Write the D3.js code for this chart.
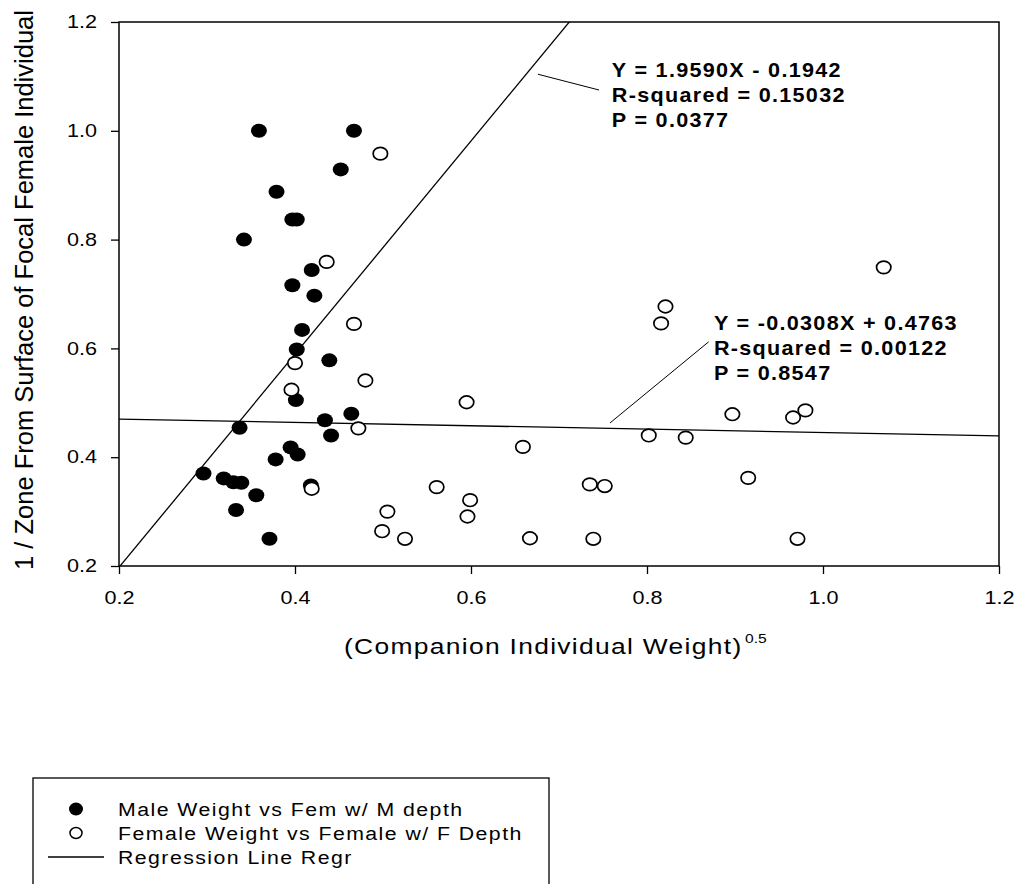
<!DOCTYPE html>
<html><head><meta charset="utf-8">
<script src="https://cdn.jsdelivr.net/npm/d3@7"></script>
<style>
body{margin:0;background:#fff}
svg{display:block}
text{font-family:"Liberation Sans", Arial, sans-serif; fill:#000}
</style>
</head><body>
<svg id="c" width="1017" height="884"></svg>
<script>
// ---------- data ----------
const maleX = [0.359,0.467,0.452,0.379,0.397,0.402,0.342,0.419,0.397,0.422,0.408,0.402,0.439,0.401,0.434,0.464,0.441,0.337,0.395,0.403,0.378,0.296,0.319,0.330,0.339,0.356,0.418,0.333,0.371];
const maleY = [1.000,1.000,0.929,0.888,0.837,0.837,0.800,0.744,0.716,0.697,0.634,0.598,0.578,0.505,0.468,0.480,0.440,0.454,0.418,0.405,0.396,0.370,0.361,0.354,0.353,0.330,0.348,0.303,0.250];
const femaleX = [0.497,0.436,0.467,0.400,0.480,0.396,0.472,0.419,0.505,0.499,0.525,0.595,0.659,0.561,0.599,0.596,0.667,0.735,0.752,0.739,1.069,0.821,0.816,0.897,0.980,0.966,0.802,0.844,0.915,0.971];
const femaleY = [0.958,0.759,0.645,0.573,0.541,0.524,0.453,0.342,0.300,0.264,0.250,0.501,0.419,0.345,0.321,0.291,0.251,0.350,0.347,0.250,0.749,0.677,0.646,0.479,0.486,0.473,0.440,0.436,0.362,0.250];
const xTicks = [0.2,0.4,0.6,0.8,1.0,1.2];
const yTicks = [0.2,0.4,0.6,0.8,1.0,1.2];
const regSlopes = [1.9590,-0.0308];
const regIntercepts = [-0.1942,0.4763];
const eqLines = [
  ["Y = 1.9590X - 0.1942","R-squared = 0.15032","P = 0.0377"],
  ["Y = -0.0308X + 0.4763","R-squared = 0.00122","P = 0.8547"]
];
const eqTextX = [0.760,0.876];
const eqTextY = [1.099,0.634];
const leaderFromX = [0.676,0.758], leaderFromY = [1.104,0.463];
const leaderToX = [0.7455,0.870], leaderToY = [1.075,0.612];
const legendLabels = ["Male Weight vs Fem w/ M depth","Female Weight vs Female w/ F Depth","Regression Line Regr"];
const xTitle = "(Companion Individual Weight)";
const xTitleSup = "0.5";
const yTitle = "1 / Zone From Surface of Focal Female Individual";

// ---------- layout ----------
const svg = d3.select("#c");
svg.append("rect").attr("width",1017).attr("height",884).attr("fill","#fff");
const L=119,R=999,T=22,B=566;
const x = d3.scaleLinear().domain([0.2,1.2]).range([L,R]);
const y = d3.scaleLinear().domain([0.2,1.2]).range([B,T]);

svg.append("defs").append("clipPath").attr("id","clip")
  .append("rect").attr("x",L).attr("y",T).attr("width",R-L).attr("height",B-T);

function stretch(sel, s){
  sel.each(function(){
    const t = d3.select(this);
    const tx = +t.attr("x")||0, ty = +t.attr("y")||0;
    t.attr("x",0).attr("y",0).attr("transform",`translate(${tx},${ty}) scale(${s},1)`);
  });
}

// axes
const tickFont = 18;
const xAxis = svg.append("g").attr("transform",`translate(0,${B})`)
  .call(d3.axisBottom(x).tickValues(xTicks).tickFormat(d3.format(".1f")).tickSize(8).tickPadding(17));
const yAxis = svg.append("g").attr("transform",`translate(${L},0)`)
  .call(d3.axisLeft(y).tickValues(yTicks).tickFormat(d3.format(".1f")).tickSize(8).tickPadding(14));
[xAxis,yAxis].forEach(g=>{
  g.select(".domain").remove();
  g.selectAll(".tick line").attr("stroke","#000").attr("stroke-width",1.3);
  g.selectAll(".tick text").attr("font-family",null).style("font-size",tickFont+"px").attr("fill","#000");
  stretch(g.selectAll(".tick text"),1.2);
});

// frame
svg.append("rect").attr("x",L).attr("y",T).attr("width",R-L).attr("height",B-T)
  .attr("fill","none").attr("stroke","#000").attr("stroke-width",1.5);

// regression lines
const plot = svg.append("g").attr("clip-path","url(#clip)");
regSlopes.forEach((m,i)=>{
  const b = regIntercepts[i];
  plot.append("line")
    .attr("x1",x(0.2)).attr("y1",y(m*0.2+b))
    .attr("x2",x(1.2)).attr("y2",y(m*1.2+b))
    .attr("stroke","#000").attr("stroke-width",1.3);
});

// points
const male = maleX.map((v,i)=>({x:v,y:maleY[i]}));
const female = femaleX.map((v,i)=>({x:v,y:femaleY[i]}));
svg.append("g").selectAll("ellipse").data(male).join("ellipse")
  .attr("cx",d=>x(d.x)).attr("cy",d=>y(d.y)).attr("rx",8).attr("ry",7).attr("fill","#000");
svg.append("g").selectAll("ellipse").data(female).join("ellipse")
  .attr("cx",d=>x(d.x)).attr("cy",d=>y(d.y)).attr("rx",7.2).attr("ry",6.3)
  .attr("fill","#fff").attr("stroke","#000").attr("stroke-width",1.7);

// equation annotations
eqLines.forEach((lines,i)=>{
  svg.append("line")
    .attr("x1",x(leaderFromX[i])).attr("y1",y(leaderFromY[i]))
    .attr("x2",x(leaderToX[i])).attr("y2",y(leaderToY[i]))
    .attr("stroke","#000").attr("stroke-width",1);
  const t = svg.append("text")
    .attr("transform",`translate(${x(eqTextX[i])},${y(eqTextY[i])}) scale(1.08,1)`)
    .style("font-size","20px").style("font-weight","bold").style("letter-spacing","1.2px");
  lines.forEach((s,j)=>{
    t.append("tspan").attr("x",0).attr("dy",j===0?0:25).text(s);
  });
});

// axis titles
svg.append("text").attr("transform","translate(344,654) scale(1.2,1)")
  .style("font-size","22px").style("letter-spacing","1.1px").text(xTitle);
svg.append("text").attr("transform","translate(745,643) scale(1.2,1)")
  .style("font-size","13px").text(xTitleSup);
svg.append("text").attr("transform","translate(33,290) rotate(-90)")
  .attr("text-anchor","middle").style("font-size","25.5px").text(yTitle);

// legend
const lg = svg.append("g");
lg.append("rect").attr("x",33).attr("y",778).attr("width",516).attr("height",130)
  .attr("fill","#fff").attr("stroke","#000").attr("stroke-width",1.3);
const rowY = [809,833,857];
lg.append("ellipse").attr("cx",76).attr("cy",rowY[0]).attr("rx",7).attr("ry",6.5).attr("fill","#000");
lg.append("ellipse").attr("cx",76).attr("cy",rowY[1]).attr("rx",6).attr("ry",5.5)
  .attr("fill","#fff").attr("stroke","#000").attr("stroke-width",1.5);
lg.append("line").attr("x1",48).attr("x2",104).attr("y1",rowY[2]).attr("y2",rowY[2])
  .attr("stroke","#000").attr("stroke-width",1.3);
legendLabels.forEach((s,i)=>{
  lg.append("text").attr("transform",`translate(118,${rowY[i]+7}) scale(1.12,1)`)
    .style("font-size","19px").style("letter-spacing","1.3px").text(s);
});
</script>
</body></html>
